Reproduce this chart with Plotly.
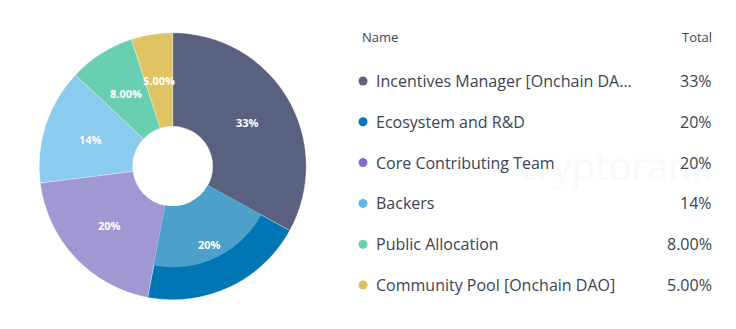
import math
import plotly.graph_objects as go

names = ["Incentives Manager [Onchain DA...", "Ecosystem and R&D", "Core Contributing Team",
         "Backers", "Public Allocation", "Community Pool [Onchain DAO]"]
values = [33, 20, 20, 14, 8, 5]
value_labels = ["33%", "20%", "20%", "14%", "8.00%", "5.00%"]
slice_colors = ["#5a6180", "#0077b4", "#a098d3", "#8bcbef", "#69cfb1", "#e0c362"]
highlight_color = "#4ba1ca"
highlight_index = 1
dot_colors = ["#5c6280", "#0a75b0", "#7e6fcc", "#62b3ea", "#68d0b1", "#e0c060"]

W, H = 736, 329
cx, cy, R, r_hole, r_hi = 172.7, 166.3, 133.5, 40.0, 101.0

def dom(rad):
    return dict(x=[(cx - rad) / W, (cx + rad) / W], y=[1 - (cy + rad) / H, 1 - (cy - rad) / H])

fig = go.Figure()
# base ring
fig.add_trace(go.Pie(values=values, labels=names, sort=False, direction="clockwise", rotation=0,
                     hole=r_hole / R, domain=dom(R), textinfo="none",
                     marker=dict(colors=slice_colors, line=dict(color="rgba(255,255,255,0.6)", width=0.5)),
                     showlegend=False, hoverinfo="skip"))
# highlighted inner part of hovered slice
hi_colors = [highlight_color if i == highlight_index else "rgba(0,0,0,0)" for i in range(len(values))]
fig.add_trace(go.Pie(values=values, labels=names, sort=False, direction="clockwise", rotation=0,
                     hole=r_hole / r_hi, domain=dom(r_hi), textinfo="none",
                     marker=dict(colors=hi_colors, line=dict(width=0)),
                     showlegend=False, hoverinfo="skip"))

# legend table
row0, step = 81.0, 40.8
rows = list(range(len(names)))
fig.add_trace(go.Scatter(x=[363] * len(names), y=rows, mode="markers",
                         marker=dict(color=dot_colors, size=9, line=dict(width=0)),
                         showlegend=False, hoverinfo="skip"))

ann = []
ann.append(dict(x=517, y=(165 - row0) / step, xref="x", yref="y", text="cryptorank", showarrow=False,
                xanchor="left", yanchor="middle", font=dict(family="Open Sans", size=38, color="#f7f9fd")))

# slice labels at the middle of the ring, angle from cumulative values
total = sum(values)
cum = 0.0
r_mid = (r_hole + R) / 2
for v, lab in zip(values, value_labels):
    th = math.radians((cum + v / 2) / total * 360)
    cum += v
    px = cx + r_mid * math.sin(th)
    py = cy - r_mid * math.cos(th)
    ann.append(dict(x=px / W, y=1 - py / H, xref="paper", yref="paper", text=lab, showarrow=False,
                    xanchor="center", yanchor="middle",
                    font=dict(family="Open Sans", size=11, color="white", weight="bold")))

ann.append(dict(x=360, y=(37 - row0) / step, xref="x", yref="y", text="Name", showarrow=False,
                xanchor="left", yanchor="middle", font=dict(family="Open Sans", size=13, color="#3d4556")))
ann.append(dict(x=714, y=(37 - row0) / step, xref="x", yref="y", text="Total", showarrow=False,
                xanchor="right", yanchor="middle", font=dict(family="Open Sans", size=13, color="#3d4556")))
for i, (n, v) in enumerate(zip(names, value_labels)):
    ann.append(dict(x=374, y=i, xref="x", yref="y", text=n, showarrow=False, xanchor="left",
                    yanchor="middle", font=dict(family="Open Sans", size=16, color="#3b4355")))
    ann.append(dict(x=714, y=i, xref="x", yref="y", text=v, showarrow=False, xanchor="right",
                    yanchor="middle", font=dict(family="Open Sans", size=16, color="#3b4355")))

fig.update_layout(
    width=W, height=H, margin=dict(l=0, r=0, t=0, b=0),
    paper_bgcolor="white", plot_bgcolor="rgba(0,0,0,0)",
    xaxis=dict(range=[0, W], domain=[0, 1], visible=False, fixedrange=True),
    yaxis=dict(range=[(H - row0) / step, -row0 / step], domain=[0, 1], visible=False, fixedrange=True),
    annotations=ann,
)
fig.write_html("out.html")
